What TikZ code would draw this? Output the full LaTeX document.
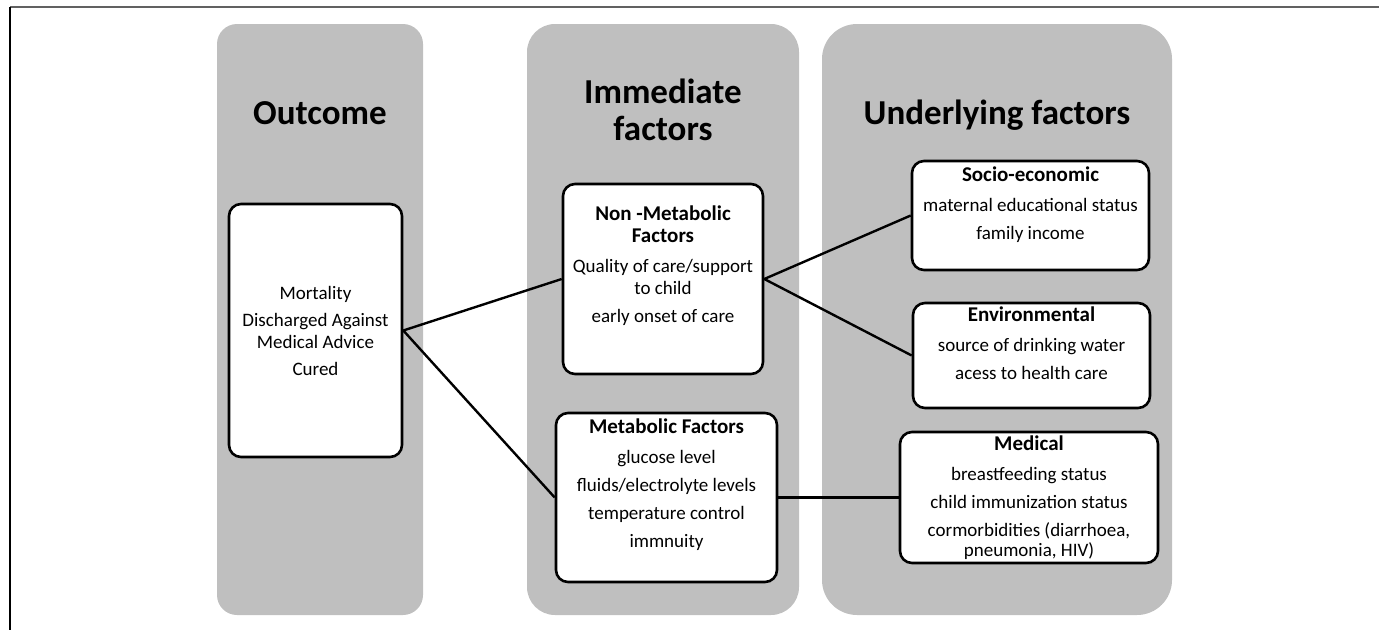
\documentclass[tikz,border=0pt]{standalone}
\usepackage{fontspec}
\setmainfont{Carlito}
\newlength{\du}
\setlength{\du}{1pt}
\definecolor{colgray}{rgb}{0.749020, 0.749020, 0.749020}
\definecolor{framegray}{rgb}{0.380000, 0.380000, 0.380000}
\newcommand{\factortext}[4][t]{\parbox[c][#3][#1]{#2}{\centering #4}}
\newcommand{\factorhead}[1]{\textbf{\fontsize{21}{22}\selectfont #1}}
\tikzset{
  factorbox/.style={draw=black, fill=white, line width=2.6\du, rounded corners=12\du,
    inner sep=0pt, font=\fontsize{19}{22}\selectfont},
  coltitle/.style={font=\bfseries\fontsize{35}{37}\selectfont, align=center, anchor=base, inner sep=0pt},
  link/.style={draw=black, line width=2.4\du},
}

\begin{document}
\begin{tikzpicture}
\pgftransformxscale{1.000000}
\pgftransformyscale{-1.000000}
\useasboundingbox (0\du,0\du) rectangle (1379\du,630\du);
% frame
\draw[line width=2.6\du, draw=framegray] (10\du,7\du)--(1379\du,7\du);
\draw[line width=1.4\du] (10\du,7\du)--(10\du,630\du);
% columns
\fill[colgray, rounded corners=20\du] (217\du,24\du) rectangle (423\du,615\du);
\fill[colgray, rounded corners=28\du] (527\du,24\du) rectangle (799\du,615\du);
\fill[colgray, rounded corners=35\du] (822\du,24\du) rectangle (1172\du,615\du);
\node[coltitle] (outcometitle) at (320\du,124\du) {Outcome};
\node[coltitle] (immtitle) at (663\du,103\du) {Immediate};
\node[coltitle] (immtitle2) at (663\du,140\du) {factors};
\node[coltitle] (undtitle) at (997\du,124\du) {Underlying factors};
% boxes
\node[factorbox] (outcome) at (315.5\du,330.5\du) {\factortext[c]{173\du}{253\du}{Mortality\\[5\du]
  Discharged Against\\Medical Advice\\[5\du]Cured}};
\node[factorbox] (nonmet) at (663\du,279\du) {\factortext{200\du}{190\du}{\vspace*{22\du}%
  \factorhead{Non -Metabolic\\Factors}\\[8\du]Quality of care/support\\to child\\[6\du]early onset of care}};
\node[factorbox] (metab) at (666.5\du,497.5\du) {\factortext{221\du}{169\du}{\vspace*{6\du}%
  \factorhead{Metabolic Factors}\\[8\du]glucose level\\[6\du]fluids/electrolyte levels\\[6\du]temperature control\\[6\du]immnuity}};
\node[factorbox] (socio) at (1030.5\du,215.5\du) {\factortext{237\du}{109\du}{\vspace*{6\du}%
  \factorhead{Socio-economic}\\[8\du]maternal educational status\\[6\du]family income}};
\node[factorbox] (environ) at (1031.5\du,355.5\du) {\factortext{237\du}{105\du}{\vspace*{4\du}%
  \factorhead{Environmental}\\[8\du]source of drinking water\\[6\du]acess to health care}};
\node[factorbox] (medical) at (1029\du,497.5\du) {\factortext{258\du}{131\du}{\vspace*{4\du}%
  \factorhead{Medical}\\[8\du]breastfeeding status\\[6\du]child immunization status\\[6\du]cormorbidities (diarrhoea,\\[-2\du]pneumonia, HIV)}};
% links
\draw[link] (outcome.east)--(nonmet.west);
\draw[link] (outcome.east)--(metab.west);
\draw[link] (nonmet.east)--(socio.west);
\draw[link] (nonmet.east)--(environ.west);
\draw[link] (metab.east)--(medical.west);
\end{tikzpicture}
\end{document}
